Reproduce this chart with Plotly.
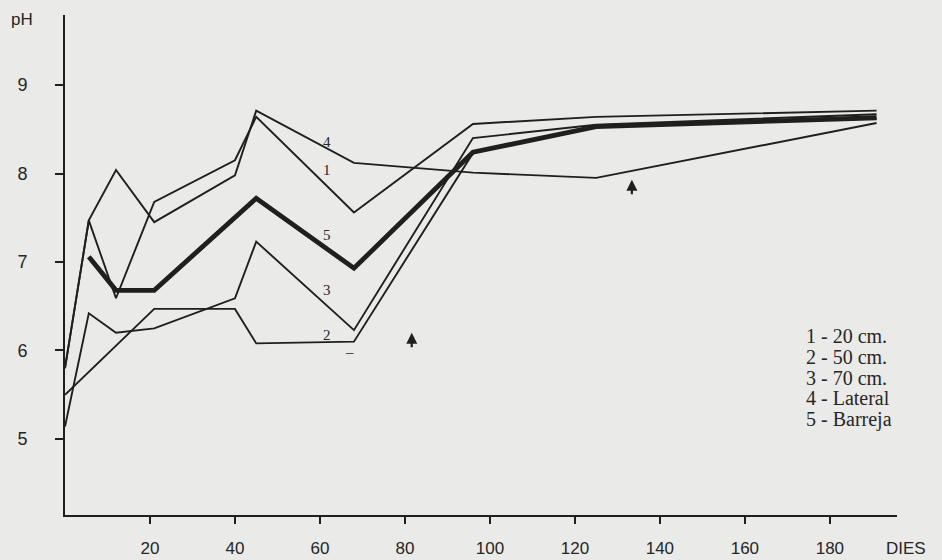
import plotly.graph_objects as go

# Sampling days shared by all profiles
days = [0, 5.6, 12, 21, 40, 45, 68, 96, 125, 191]

# pH per profile (None = no reading on that day)
ph_20cm = [5.80, 7.47, 6.59, 7.68, 8.15, 8.64, 7.56, 8.56, 8.64, 8.71]
ph_50cm = [5.50, None, None, 6.47, 6.47, 6.08, 6.10, 8.23, 8.53, 8.62]
ph_70cm = [5.14, 6.42, 6.20, 6.25, 6.59, 7.23, 6.23, 8.40, 8.55, 8.67]
ph_lateral = [5.80, 7.47, 8.04, 7.45, 7.98, 8.71, 8.12, 8.01, 7.95, 8.57]
ph_barreja = [None, 7.06, 6.68, 6.68, None, 7.72, 6.93, 8.24, 8.53, 8.63]

x_ticks = [20, 40, 60, 80, 100, 120, 140, 160, 180]
y_ticks = [5, 6, 7, 8, 9]

legend_lines = ["1 - 20 cm.", "2 - 50 cm.", "3 - 70 cm.", "4 - Lateral", "5 - Barreja"]

# Curve number labels written beside the lines: (label, day, pH)
curve_labels = [("4", 61.6, 8.36), ("1", 61.6, 8.04), ("5", 61.6, 7.31),
                ("3", 61.6, 6.68), ("2", 61.6, 6.18), ("–", 67.0, 5.98)]

# Event arrows: (day, pH of arrow tip)
arrows = [(81.6, 6.20), (133.4, 7.93)]

INK = "#1f1f1f"
TEXT = "#262626"
PAPER = "#eaeae8"

fig = go.Figure()

series = [
    ("1 - 20 cm.", ph_20cm, 1.9),
    ("2 - 50 cm.", ph_50cm, 1.9),
    ("3 - 70 cm.", ph_70cm, 1.9),
    ("4 - Lateral", ph_lateral, 1.9),
    ("5 - Barreja", ph_barreja, 4.8),
]
for name, vals, w in series:
    fig.add_trace(go.Scatter(
        x=days, y=vals, mode="lines", name=name, connectgaps=True,
        line=dict(color=INK, width=w), hoverinfo="x+y+name",
    ))

annotations = []
for txt, d, p in curve_labels:
    annotations.append(dict(
        x=d, y=p, xref="x", yref="y", text=txt, showarrow=False,
        font=dict(family="Liberation Serif", size=15, color=TEXT),
    ))

for d, p in arrows:
    annotations.append(dict(
        x=d, y=p, xref="x", yref="y", text="", showarrow=True,
        ax=0, ay=16, arrowhead=2, arrowsize=1, arrowwidth=2.2, arrowcolor=INK,
    ))

for i, line in enumerate(legend_lines):
    annotations.append(dict(
        x=804, y=336 + i * 20.8, xref="paper", yref="paper", text=line,
        showarrow=False, xanchor="left", yanchor="middle",
        font=dict(family="Liberation Serif", size=20, color=TEXT),
    ))

# Axis captions
annotations.append(dict(
    x=22, y=19, xref="paper", yref="paper", text="pH", showarrow=False,
    xanchor="center", yanchor="middle",
    font=dict(family="Liberation Sans", size=17, color=TEXT),
))
annotations.append(dict(
    x=906, y=548, xref="paper", yref="paper", text="DIES", showarrow=False,
    xanchor="center", yanchor="middle",
    font=dict(family="Liberation Sans", size=17, color=TEXT),
))

W, H = 942, 560
# convert pixel positions for paper-anchored text
for a in annotations:
    if a["xref"] == "paper":
        a["x"] = (a["x"] - 65) / (W - 65 - 45)
        a["y"] = 1 - (a["y"] - 15) / (H - 15 - 45)

fig.update_layout(
    width=W, height=H, autosize=False,
    margin=dict(l=65, r=45, t=15, b=45, autoexpand=False),
    paper_bgcolor=PAPER, plot_bgcolor=PAPER,
    showlegend=False,
    annotations=annotations,
    font=dict(family="Liberation Sans", color=TEXT),
)
fig.update_xaxes(
    range=[0, 195.8], tickvals=x_ticks, ticktext=[str(v) for v in x_ticks],
    showgrid=False, zeroline=False, showline=True, linecolor=INK, linewidth=2,
    ticks="outside", ticklen=7, tickwidth=1.6, tickcolor=INK, automargin=False,
    ticklabelstandoff=10, tickfont=dict(size=17, family="Liberation Sans", color=TEXT),
)
fig.update_yaxes(
    range=[4.141, 9.791], tickvals=y_ticks, ticktext=[str(v) for v in y_ticks],
    showgrid=False, zeroline=False, showline=True, linecolor=INK, linewidth=2,
    ticks="outside", ticklen=8, tickwidth=1.6, tickcolor=INK, automargin=False,
    ticklabelstandoff=24, tickfont=dict(size=18, family="Liberation Sans", color=TEXT),
)

fig.write_html("out.html")
